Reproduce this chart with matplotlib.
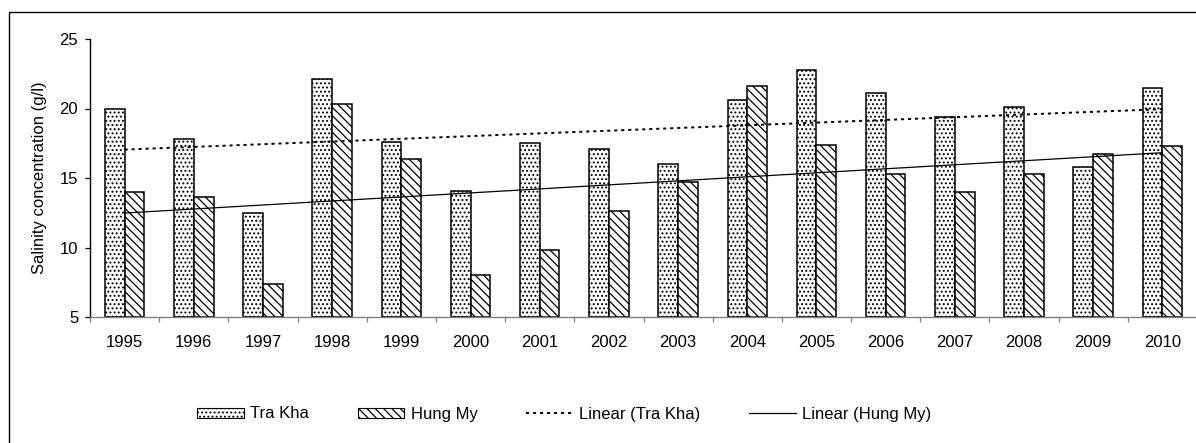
import numpy as np
import matplotlib
matplotlib.use("Agg")
import matplotlib.pyplot as plt
from matplotlib.patches import Rectangle, Patch
from matplotlib.lines import Line2D

years = ["1995", "1996", "1997", "1998", "1999", "2000", "2001", "2002",
         "2003", "2004", "2005", "2006", "2007", "2008", "2009", "2010"]
tra_kha = [20.0, 17.8, 12.5, 22.1, 17.6, 14.1, 17.5, 17.1,
           16.0, 20.6, 22.8, 21.1, 19.4, 20.1, 15.8, 21.5]
hung_my = [14.0, 13.6, 7.4, 20.3, 16.4, 8.0, 9.8, 12.6,
           14.7, 21.6, 17.4, 15.3, 14.0, 15.3, 16.7, 17.3]

plt.rcParams["font.family"] = ["Liberation Sans", "DejaVu Sans"]
plt.rcParams["font.size"] = 12
plt.rcParams["hatch.linewidth"] = 0.9

W, H = 1196, 443
fig = plt.figure(figsize=(W / 100, H / 100), dpi=100)
ax = fig.add_axes([90 / W, 126 / H, 1107 / W, 278 / H])

x = np.arange(len(years))
bw = 1 / 3.5
ax.bar(x - bw / 2, np.array(tra_kha) - 5, bw, bottom=5, color="white",
       edgecolor="black", linewidth=1.1, hatch="....")
ax.bar(x + bw / 2, np.array(hung_my) - 5, bw, bottom=5, color="white",
       edgecolor="black", linewidth=1.1, hatch="\\\\\\\\")

# linear trend lines (least squares on category index)
p_tk = np.polyfit(x, tra_kha, 1)
p_hm = np.polyfit(x, hung_my, 1)
ax.plot(x, np.polyval(p_tk, x), color="black", lw=1.4,
        linestyle=(0, (1.6, 2.0)), zorder=3)
ax.plot(x, np.polyval(p_hm, x), color="black", lw=0.9, zorder=3)

ax.set_xlim(-0.5, len(years) - 0.5)
ax.set_ylim(5, 25)
ax.set_yticks([5, 10, 15, 20, 25])
ax.set_xticks(x)
ax.set_xticklabels(years)
ax.set_xticks(np.arange(-0.5, len(years)), minor=True)
ax.tick_params(axis="x", which="major", length=0, pad=13)
ax.tick_params(axis="x", which="minor", length=3.5, color="#808080", width=0.9)
ax.tick_params(axis="y", length=3.5, width=0.9, pad=5)
for s in ("top", "right"):
    ax.spines[s].set_visible(False)
ax.spines["bottom"].set_color("#808080")
ax.spines["bottom"].set_linewidth(1.0)
ax.spines["left"].set_linewidth(1.0)

fig.text(40 / W, 1 - 178 / H, "Salinity concentration (g/l)", rotation=90,
         ha="center", va="center")

# chart area border (runs off the right and bottom edges)
fig.patches.append(Rectangle((9 / W, -0.1), 1.2, 1 - 12 / H + 0.1,
                             transform=fig.transFigure, fill=False,
                             edgecolor="black", lw=1.0))

handles = [
    Patch(facecolor="white", edgecolor="black", hatch="....", lw=0.8),
    Patch(facecolor="white", edgecolor="black", hatch="\\\\\\\\", lw=0.8),
    Line2D([], [], color="black", lw=1.4, linestyle=(0, (1.6, 2.0))),
    Line2D([], [], color="black", lw=0.9),
]
labels = ["Tra Kha", "Hung My", "Linear (Tra Kha)", "Linear (Hung My)"]
fig.legend(handles, labels, ncol=4, loc="center left",
           bbox_to_anchor=(197 / W, 1 - 414 / H), frameon=False,
           borderpad=0, borderaxespad=0, handlelength=2.8, handleheight=0.55,
           handletextpad=0.4, columnspacing=2.9)

fig.savefig("out.png", dpi=100)
